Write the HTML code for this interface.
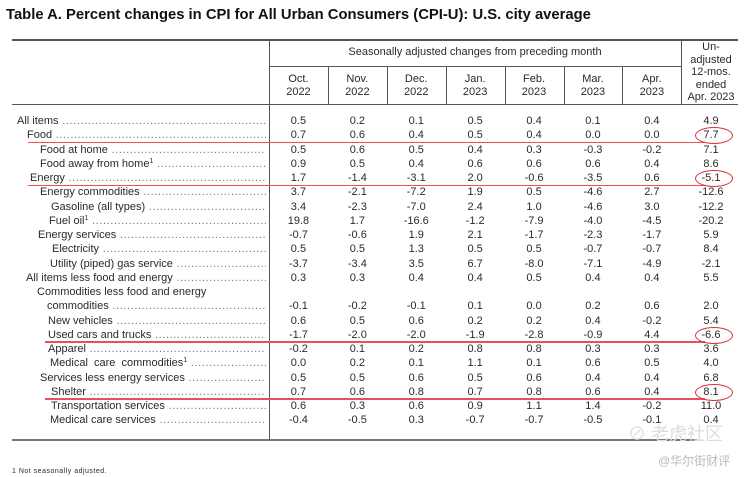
<!DOCTYPE html>
<html><head><meta charset="utf-8">
<style>
html,body{margin:0;padding:0;background:#fff;}
#page{position:relative;width:750px;height:477px;overflow:hidden;font-family:"Liberation Sans",Arial,sans-serif;color:#2a2a2a;}
.t{position:absolute;white-space:nowrap;font-size:11px;line-height:13px;}
.lbl{position:absolute;white-space:nowrap;font-size:11px;line-height:13px;height:13px;overflow:hidden;}
.v{position:absolute;width:50px;text-align:center;font-size:11px;line-height:13px;}
.hl{position:absolute;height:1px;background:#555;}
.vl{position:absolute;width:1px;background:#555;}
.red{position:absolute;height:1.5px;background:#e8515c;}
.ell{position:absolute;border:1px solid #d9343f;border-radius:50%;}
sup{font-size:7px;line-height:0;position:relative;top:-4px;vertical-align:baseline;}
</style></head><body>
<div id="page">
<div class="t" style="left:6px;top:6px;font-size:14.8px;font-weight:bold;line-height:18px;color:#111;">Table A. Percent changes in CPI for All Urban Consumers (CPI-U): U.S. city average</div>
<div class="hl" style="left:12px;top:39px;width:726px;height:1.5px;"></div>
<div class="hl" style="left:269px;top:66px;width:412px;"></div>
<div class="hl" style="left:12px;top:104px;width:726px;"></div>
<div class="hl" style="left:12px;top:439px;width:685px;height:1.5px;background:#777;"></div>
<div class="vl" style="left:269px;top:39px;height:401px;"></div>
<div class="vl" style="left:681px;top:39px;height:65px;"></div>
<div class="t" style="left:269px;width:412px;text-align:center;top:46px;">Seasonally adjusted changes from preceding month</div>
<div class="t" style="left:681px;width:60px;text-align:center;top:41px;line-height:12.6px;">Un-<br>adjusted<br>12-mos.<br>ended<br>Apr. 2023</div>
<div class="t" style="left:12px;top:465px;font-size:7px;letter-spacing:0.5px;">1 Not seasonally adjusted.</div>
<div class="t" style="left:628px;top:424px;font-size:18px;line-height:20px;color:#ddd;font-family:'Liberation Sans','Noto Sans CJK SC',sans-serif;">⊘ 老虎社区</div>
<div class="t" style="left:658px;top:454px;font-size:12px;line-height:14px;color:#bbb;font-family:'Liberation Sans','Noto Sans CJK SC',sans-serif;">@华尔街财评</div>
</div>
<script>
const months = ["Oct.|2022","Nov.|2022","Dec.|2022","Jan.|2023","Feb.|2023","Mar.|2023","Apr.|2023"];
const labels = ["All items","Food","Food at home","Food away from home¹","Energy","Energy commodities","Gasoline (all types)","Fuel oil¹","Energy services","Electricity","Utility (piped) gas service","All items less food and energy","Commodities less food and energy","commodities","New vehicles","Used cars and trucks","Apparel","Medical  care  commodities¹","Services less energy services","Shelter","Transportation services","Medical care services"];
const indents = [17,27,40,40,30,40,51,49,38,52,50,26,37,47,48,48,48,50,40,51,51,50];
const values = [
["0.5","0.2","0.1","0.5","0.4","0.1","0.4","4.9"],
["0.7","0.6","0.4","0.5","0.4","0.0","0.0","7.7"],
["0.5","0.6","0.5","0.4","0.3","-0.3","-0.2","7.1"],
["0.9","0.5","0.4","0.6","0.6","0.6","0.4","8.6"],
["1.7","-1.4","-3.1","2.0","-0.6","-3.5","0.6","-5.1"],
["3.7","-2.1","-7.2","1.9","0.5","-4.6","2.7","-12.6"],
["3.4","-2.3","-7.0","2.4","1.0","-4.6","3.0","-12.2"],
["19.8","1.7","-16.6","-1.2","-7.9","-4.0","-4.5","-20.2"],
["-0.7","-0.6","1.9","2.1","-1.7","-2.3","-1.7","5.9"],
["0.5","0.5","1.3","0.5","0.5","-0.7","-0.7","8.4"],
["-3.7","-3.4","3.5","6.7","-8.0","-7.1","-4.9","-2.1"],
["0.3","0.3","0.4","0.4","0.5","0.4","0.4","5.5"],
null,
["-0.1","-0.2","-0.1","0.1","0.0","0.2","0.6","2.0"],
["0.6","0.5","0.6","0.2","0.2","0.4","-0.2","5.4"],
["-1.7","-2.0","-2.0","-1.9","-2.8","-0.9","4.4","-6.6"],
["-0.2","0.1","0.2","0.8","0.8","0.3","0.3","3.6"],
["0.0","0.2","0.1","1.1","0.1","0.6","0.5","4.0"],
["0.5","0.5","0.6","0.5","0.6","0.4","0.4","6.8"],
["0.7","0.6","0.8","0.7","0.8","0.6","0.4","8.1"],
["0.6","0.3","0.6","0.9","1.1","1.4","-0.2","11.0"],
["-0.4","-0.5","0.3","-0.7","-0.7","-0.5","-0.1","0.4"]];
const highlighted = [1,4,15,19];
const page = document.getElementById('page');
const colX = i => i < 7 ? 269 + i*58.9 : 681;
const colW = i => i < 7 ? 58.9 : 60;
const rowY = r => 115 + r*14.26;
months.forEach((m,i)=>{
  const d=document.createElement('div');
  d.className='t';
  
  
  d.style.cssText=`left:${colX(i)}px;width:${colW(i)}px;text-align:center;top:73px;line-height:12.5px;`;
  d.innerHTML=m.replace('|','<br>');
  page.appendChild(d);
  if(i>0){
    const l=document.createElement('div');
    l.className='vl';
    
    
    l.style.cssText=`left:${colX(i)}px;top:66px;height:38px;`;
    page.appendChild(l);
  }
});
labels.forEach((lab,r)=>{
  const d=document.createElement('div');
  d.className='lbl';
  
  
  const dots = r===12 ? '' : ' '+'.'.repeat(120);
  d.style.cssText=`left:${indents[r]}px;width:${266-indents[r]}px;top:${rowY(r)}px;`;
  d.innerHTML=lab.replace('¹','<sup>1</sup>').replace(/  /g,'&nbsp;&nbsp;')+'<span style="color:#777;letter-spacing:0.6px;">'+dots+'</span>';
  page.appendChild(d);
  const vals=values[r];
  if(!vals) return;
  vals.forEach((v,i)=>{
    const c=document.createElement('div');
    c.className='v';
    
    
    c.style.cssText=`left:${colX(i)+colW(i)/2-25}px;top:${rowY(r)}px;`;
    c.textContent=v;
    page.appendChild(c);
  });
});
highlighted.forEach(r=>{
  const y=rowY(r);
  const l=document.createElement('div');
  l.className='red';
  
  
  const x0 = r<5 ? 28 : 45;
  l.style.cssText=`left:${x0}px;top:${y+12.5}px;width:${705-x0}px;`;
  page.appendChild(l);
  const e=document.createElement('div');
  e.className='ell';
  
  
  e.style.cssText=`left:695px;top:${y-2}px;width:36px;height:15px;`;
  page.appendChild(e);
});
</script>
</body></html>
